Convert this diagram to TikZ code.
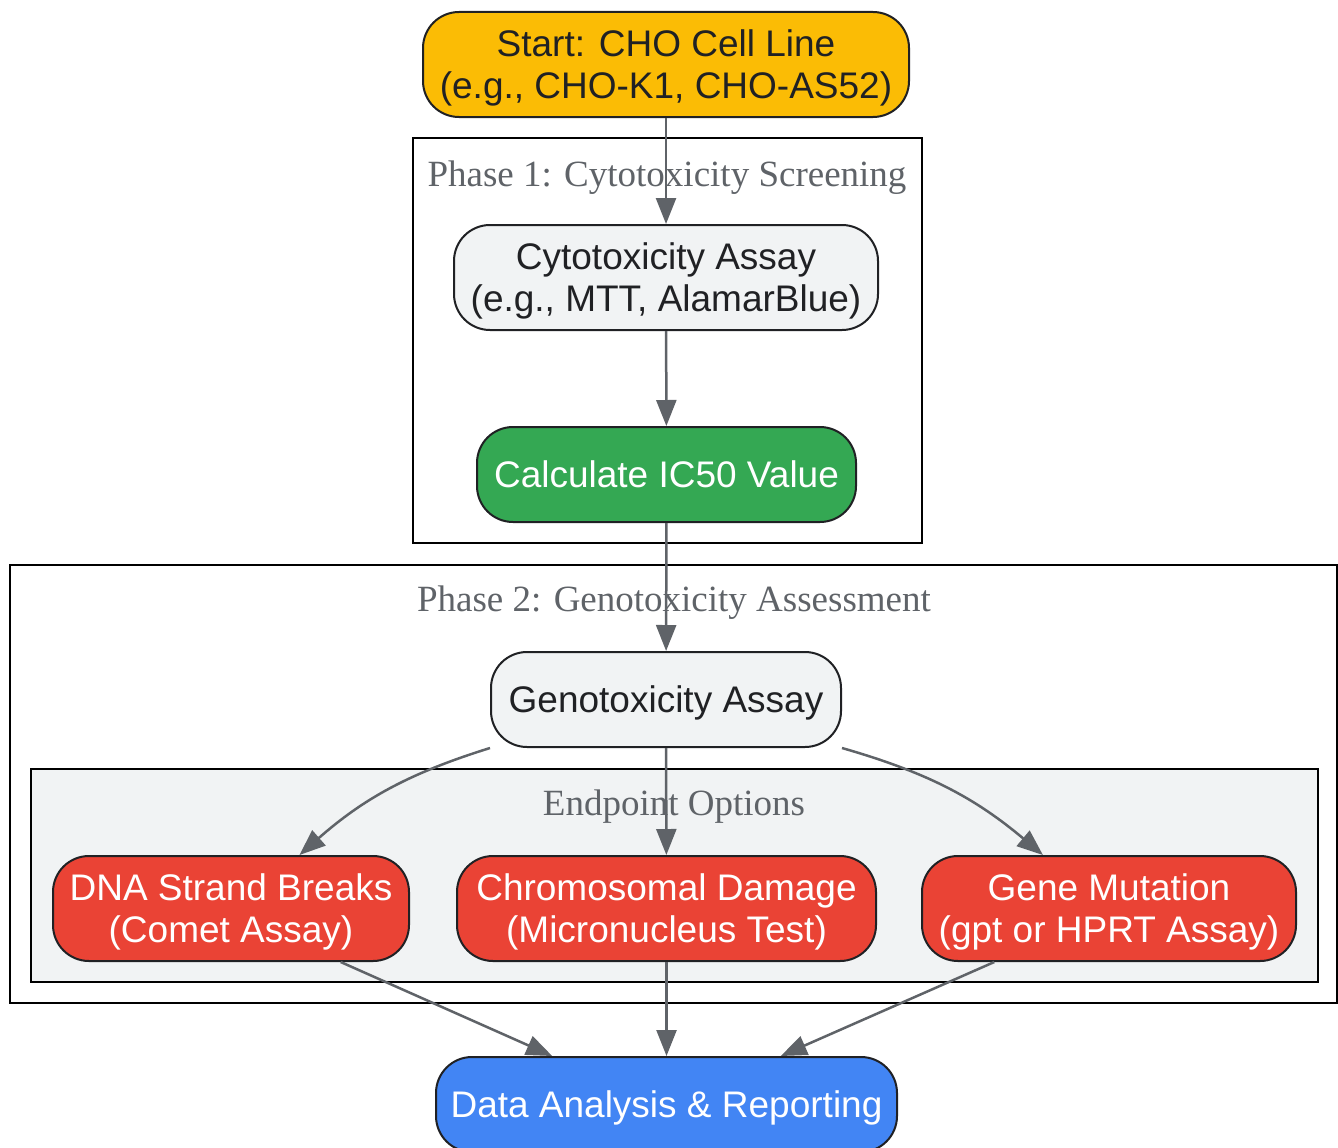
\documentclass[tikz,border=0pt]{standalone}
\usepackage{fontspec}
\setmainfont{Liberation Serif}
\setsansfont{Liberation Sans}
\usepackage{tikz}
\usetikzlibrary{arrows.meta}
\definecolor{startcolor}{HTML}{FBBC05}
\definecolor{assaycolor}{HTML}{F1F3F4}
\definecolor{resultcolor}{HTML}{34A853}
\definecolor{endpointcolor}{HTML}{EA4335}
\definecolor{reportcolor}{HTML}{4285F4}
\definecolor{edgecolor}{HTML}{5F6368}
\definecolor{textdark}{HTML}{202124}

\begin{document}
\begin{tikzpicture}[
    x=1pt, y=-1pt,
    box/.style={draw=textdark, line width=2pt, rounded corners=36pt, inner sep=0pt, minimum height=105pt, text depth=0pt, align=center, text=textdark, font=\sffamily\fontsize{37}{42}\selectfont},
    cluster/.style={draw=black, line width=2pt},
    clusterlabel/.style={anchor=base, inner sep=0pt, text=edgecolor, font=\rmfamily\fontsize{37}{42}\selectfont},
    arrow/.style={-{Triangle[length=26pt, width=20pt]}, line width=2.5pt, edgecolor}
]
    \useasboundingbox (0,0) rectangle (1338,1148);

    % Clusters
    \draw[cluster] (413,138) rectangle (922,543);
    \draw[cluster] (10,565) rectangle (1337,1003);
    \draw[cluster, fill=assaycolor] (31,769) rectangle (1318,982);
    \node[clusterlabel] (phaseone) at (667,186) {Phase 1: Cytotoxicity Screening};
    \node[clusterlabel] (phasetwo) at (674,611) {Phase 2: Genotoxicity Assessment};
    \node[clusterlabel] (endpoints) at (674,815) {Endpoint Options};

    % Start
    \node[box, fill=startcolor, minimum width=486pt] (start) at (666,64.5) {Start: CHO Cell Line\\(e.g., CHO-K1, CHO-AS52)};

    % Phase 1
    \node[box, fill=assaycolor, minimum width=424pt] (cyto) at (666,277.5) {Cytotoxicity Assay\\(e.g., MTT, AlamarBlue)};
    \node[box, fill=resultcolor, text=white, minimum width=379pt, minimum height=95pt] (ic50) at (666.5,474.5) {Calculate IC50 Value};

    % Phase 2
    \node[box, fill=assaycolor, minimum width=350pt, minimum height=95pt] (geno) at (666,699.5) {Genotoxicity Assay};
    \node[box, fill=endpointcolor, text=white, minimum width=356pt] (dna) at (231,908.5) {DNA Strand Breaks\\(Comet Assay)};
    \node[box, fill=endpointcolor, text=white, minimum width=419pt] (chrom) at (666.5,908.5) {Chromosomal Damage\\(Micronucleus Test)};
    \node[box, fill=endpointcolor, text=white, minimum width=374pt] (gene) at (1109,908.5) {Gene Mutation\\(gpt or HPRT Assay)};

    % Report
    \node[box, fill=reportcolor, text=white, minimum width=461pt, minimum height=95pt] (report) at (666.5,1104.5) {Data Analysis \& Reporting};

    % Arrows
    \draw[arrow] (start) -- (cyto);
    \draw[arrow] (cyto) -- (ic50);
    \draw[arrow] (ic50) -- (geno);
    \draw[arrow] (geno.south west) to[bend right=12] (dna.38);
    \draw[arrow] (geno) -- (chrom);
    \draw[arrow] (geno.south east) to[bend left=12] (gene.141);
    \draw[arrow] (dna.-26) -- (report.157);
    \draw[arrow] (chrom) -- (report);
    \draw[arrow] (gene.205) -- (report.23);
\end{tikzpicture}
\end{document}
